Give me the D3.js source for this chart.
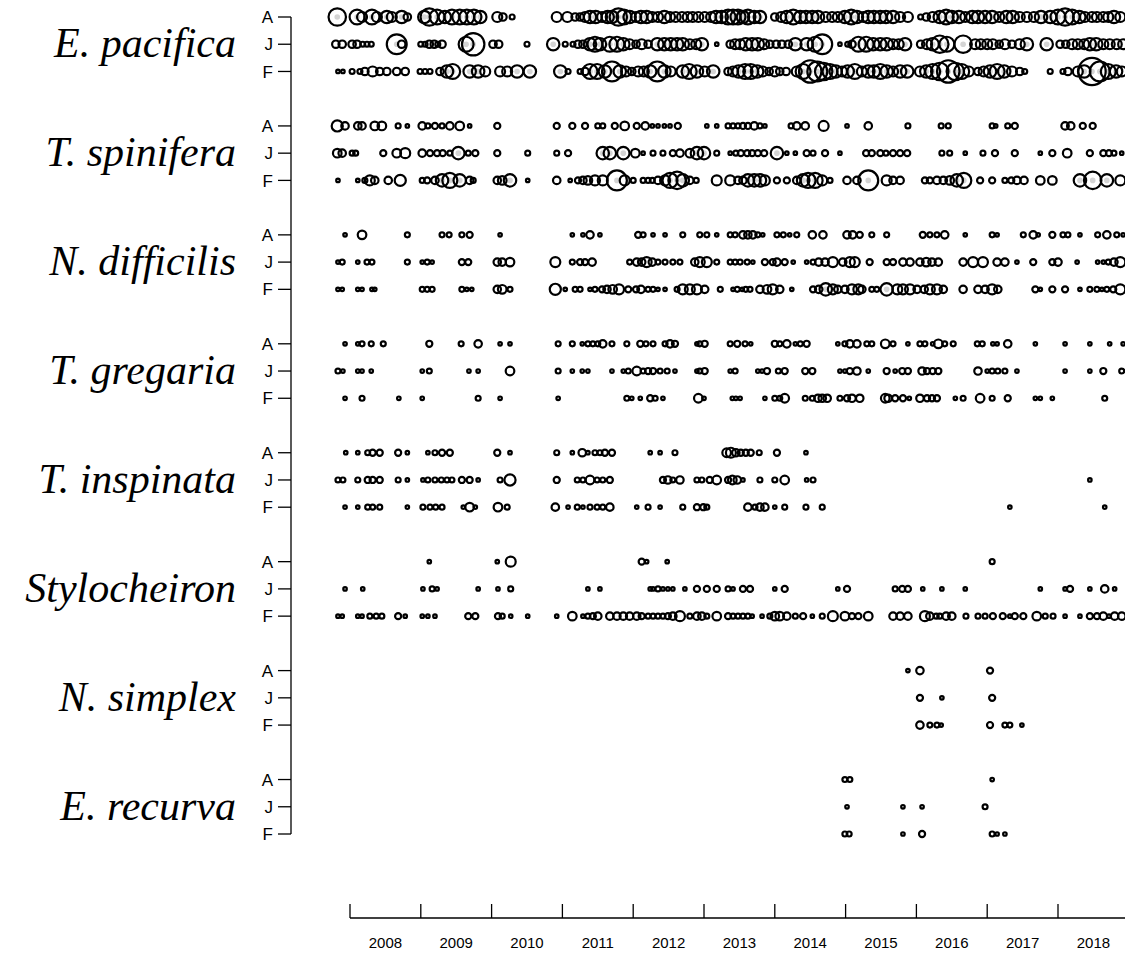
<!DOCTYPE html>
<html>
<head>
<meta charset="utf-8">
<script src="https://cdn.jsdelivr.net/npm/d3@7"></script>
<style>
  html, body { margin: 0; padding: 0; background: #fff; }
  svg { display: block; }
</style>
</head>
<body>
<svg id="chart" width="1125" height="953"></svg>
<script>
// Krill (euphausiid) abundance by sampling date, per species and life stage.
// Each entry: [decimal year, abundance]; circle area is proportional to abundance.

const species = ["E. pacifica", "T. spinifera", "N. difficilis", "T. gregaria",
                 "T. inspinata", "Stylocheiron", "N. simplex", "E. recurva"];
const stages = ["A", "J", "F"];
const yearTicks = [2008, 2009, 2010, 2011, 2012, 2013, 2014, 2015, 2016, 2017, 2018, 2019];
const yearLabels = ["2008", "2009", "2010", "2011", "2012", "2013", "2014", "2015", "2016", "2017", "2018"];

// E. pacifica
const epacificaA = [[2007.82,49],[2008.10,36],[2008.17,16],[2008.31,36],[2008.38,16],[2008.52,25],[2008.59,16],[2008.73,25],[2008.81,9],
  [2009.05,25],[2009.12,49],[2009.23,36],[2009.34,25],[2009.44,36],[2009.55,36],[2009.65,36],[2009.75,36],[2009.84,25],
  [2010.08,16],[2010.16,9],[2010.29,4],[2010.92,16],[2011.07,16],[2011.18,9],[2011.25,9],[2011.32,16],[2011.39,25],[2011.47,25],
  [2011.56,16],[2011.64,25],[2011.70,25],[2011.79,49],[2011.87,36],[2011.95,25],[2012.04,16],[2012.11,25],[2012.19,25],[2012.27,16],
  [2012.35,16],[2012.44,25],[2012.52,16],[2012.60,16],[2012.69,16],[2012.77,16],[2012.84,16],[2012.92,16],[2013.01,16],[2013.10,16],
  [2013.17,25],[2013.25,25],[2013.34,36],
  [2013.41,36],[2013.48,36],[2013.55,25],[2013.62,36],[2013.71,25],[2013.79,25],[2014.00,9],[2014.09,16],[2014.17,25],[2014.26,36],
  [2014.36,25],[2014.44,25],[2014.53,25],[2014.61,25],[2014.72,16],[2014.81,16],[2014.89,16],[2014.99,25],[2015.08,36],[2015.16,25],
  [2015.25,16],[2015.32,25],[2015.40,25],[2015.49,25],[2015.57,25],[2015.67,25],[2015.77,16],[2015.88,16],[2016.06,4],[2016.14,9],
  [2016.23,16],[2016.33,25],[2016.42,36],[2016.50,25],[2016.60,25],[2016.69,16],[2016.79,25],[2016.87,25],[2016.97,25],[2017.07,25],
  [2017.17,16],[2017.27,25],[2017.36,25],[2017.46,16],[2017.56,16],[2017.66,16],[2017.76,25],[2017.89,25],[2018.00,36],[2018.10,49],
  [2018.20,36],[2018.30,25],[2018.38,16],[2018.48,16],[2018.55,16],[2018.64,16],[2018.71,16],[2018.79,25],[2018.88,16]];
const epacificaJ = [[2007.80,9],[2007.89,9],[2008.03,9],[2008.10,9],[2008.18,4],[2008.24,4],[2008.30,4],[2008.66,64],[2008.73,9],
  [2009.00,4],[2009.06,4],[2009.12,9],[2009.19,9],[2009.24,4],[2009.30,9],[2009.64,36],[2009.74,81],[2010.02,9],[2010.10,9],[2010.50,4],
  [2010.87,25],[2011.04,4],[2011.15,4],[2011.22,9],[2011.29,9],[2011.39,25],[2011.46,36],[2011.53,25],[2011.67,36],[2011.77,36],
  [2011.86,25],[2011.95,16],[2012.04,9],[2012.12,16],[2012.21,9],[2012.34,25],[2012.44,25],[2012.53,25],[2012.62,25],[2012.70,25],
  [2012.80,16],[2012.89,16],[2012.97,25],[2013.18,2],[2013.37,9],[2013.44,16],[2013.51,16],[2013.59,25],[2013.68,25],[2013.76,25],
  [2013.85,16],[2013.93,9],[2014.02,9],[2014.10,9],[2014.19,9],[2014.29,25],[2014.45,25],[2014.57,36],[2014.67,64],[2014.92,2],
  [2015.03,4],[2015.09,9],[2015.18,36],[2015.29,36],[2015.39,25],[2015.49,25],[2015.58,25],[2015.67,16],[2015.75,16],[2015.84,25],
  [2016.06,9],[2016.15,16],[2016.23,25],[2016.33,49],[2016.43,36],[2016.66,49],[2016.83,16],[2016.91,16],[2017.00,16],[2017.08,16],
  [2017.17,9],[2017.25,16],[2017.35,9],[2017.46,16],[2017.56,25],[2017.84,25],[2018.03,9],[2018.11,9],[2018.20,16],[2018.28,16],
  [2018.37,16],[2018.45,25],[2018.54,25],[2018.64,16],[2018.73,16],[2018.83,16],[2018.92,16]];
const epacificaF = [[2007.83,2],[2007.90,2],[2008.03,4],[2008.14,4],[2008.21,9],[2008.32,16],[2008.42,9],[2008.52,9],[2008.66,9],
  [2008.78,9],[2008.99,4],[2009.06,4],[2009.13,4],[2009.27,9],[2009.37,25],[2009.45,36],[2009.69,25],[2009.81,25],[2009.91,16],
  [2010.12,16],[2010.22,16],[2010.36,25],[2010.54,25],[2010.97,25],[2011.08,4],[2011.25,4],[2011.32,9],[2011.39,36],[2011.49,36],
  [2011.60,25],[2011.70,64],[2011.81,25],[2011.90,16],[2011.98,9],[2012.07,16],[2012.15,16],[2012.24,25],[2012.34,64],[2012.44,25],
  [2012.53,16],[2012.70,25],[2012.79,36],[2012.90,25],[2013.01,16],[2013.13,25],[2013.34,9],[2013.41,16],[2013.49,25],[2013.58,36],
  [2013.66,36],[2013.75,25],[2013.83,16],[2013.92,9],[2014.00,16],[2014.07,9],[2014.16,9],[2014.31,16],[2014.40,36],[2014.50,81],
  [2014.60,64],[2014.69,49],[2014.78,36],[2014.86,25],[2014.95,16],[2015.03,25],[2015.13,36],[2015.23,16],[2015.32,25],[2015.40,25],
  [2015.49,36],[2015.58,25],[2015.67,16],[2015.77,25],[2015.87,25],[2016.05,16],[2016.14,25],[2016.23,36],[2016.33,49],[2016.45,81],
  [2016.55,49],[2016.64,36],[2016.74,16],[2016.87,9],[2016.95,16],[2017.04,25],[2017.14,36],[2017.24,25],[2017.35,16],[2017.46,9],
  [2017.53,4],[2017.89,4],[2018.07,4],[2018.14,9],[2018.28,16],[2018.37,25],[2018.48,121],[2018.59,64],[2018.71,36],[2018.82,25],[2018.90,16]];

// T. spinifera
const tspiniferaA = [[2007.82,20],[2007.93,9],[2008.11,9],[2008.17,9],[2008.35,12],[2008.45,12],[2008.68,4],[2008.81,2],[2009.02,9],
  [2009.10,4],[2009.20,6],[2009.30,4],[2009.41,9],[2009.55,12],[2009.69,2],[2010.08,6],[2010.92,6],[2011.14,6],[2011.32,6],[2011.50,4],
  [2011.57,4],[2011.74,6],[2011.88,12],[2012.05,6],[2012.17,9],[2012.27,2],[2012.35,2],[2012.44,2],[2012.52,2],[2012.63,6],[2013.04,2],
  [2013.18,2],[2013.34,4],[2013.41,4],[2013.48,4],[2013.55,6],[2013.62,6],[2013.71,9],[2013.79,4],[2013.86,2],[2014.23,4],[2014.31,9],
  [2014.43,9],[2014.69,16],[2015.02,2],[2015.32,9],[2015.88,4],[2016.35,4],[2016.45,4],[2017.07,4],[2017.12,2],[2017.29,4],[2017.39,6],
  [2018.10,9],[2018.18,9],[2018.35,6],[2018.49,6]];
const tspiniferaJ = [[2007.82,12],[2007.89,9],[2008.03,4],[2008.08,4],[2008.47,6],[2008.66,12],[2008.78,16],[2009.02,9],[2009.13,6],
  [2009.23,6],[2009.31,6],[2009.41,4],[2009.53,25],[2009.67,4],[2009.77,6],[2010.08,6],[2010.51,4],[2010.92,4],[2011.08,6],[2011.57,25],
  [2011.67,25],[2011.86,25],[2012.03,12],[2012.14,2],[2012.28,4],[2012.42,4],[2012.56,6],[2012.66,9],[2012.80,12],[2012.90,25],
  [2013.00,25],[2013.18,4],[2013.37,2],[2013.45,4],[2013.52,6],[2013.61,6],[2013.68,6],[2013.76,6],[2013.85,6],[2014.03,25],[2014.17,2],
  [2014.29,2],[2014.45,6],[2014.54,4],[2014.71,6],[2014.92,2],[2015.29,6],[2015.37,6],[2015.49,6],[2015.57,4],[2015.67,6],[2015.77,6],
  [2015.87,6],[2016.36,4],[2016.47,4],[2016.69,2],[2016.94,4],[2017.11,6],[2017.39,6],[2017.75,2],[2017.92,6],[2018.13,12],[2018.45,6],
  [2018.64,6],[2018.72,6],[2018.79,4],[2018.90,2]];
const tspiniferaF = [[2007.83,2],[2008.11,2],[2008.21,4],[2008.28,16],[2008.35,9],[2008.54,9],[2008.71,20],[2009.02,4],[2009.09,6],
  [2009.20,9],[2009.30,25],[2009.41,36],[2009.55,25],[2009.69,9],[2009.74,4],[2010.08,9],[2010.15,12],[2010.26,25],[2010.51,2],
  [2010.92,9],[2011.11,2],[2011.22,6],[2011.29,9],[2011.36,12],[2011.46,16],[2011.57,16],[2011.77,64],[2011.88,16],[2012.00,4],
  [2012.14,4],[2012.21,4],[2012.27,4],[2012.35,9],[2012.45,16],[2012.52,36],[2012.62,49],[2012.70,25],[2012.80,9],[2012.89,4],
  [2013.18,16],[2013.37,16],[2013.48,9],[2013.55,9],[2013.62,25],[2013.71,25],[2013.79,25],[2013.86,16],[2014.03,6],[2014.17,6],
  [2014.31,9],[2014.40,25],[2014.47,36],[2014.57,36],[2014.67,16],[2014.78,4],[2015.02,9],[2015.16,9],[2015.32,64],[2015.58,16],
  [2015.67,9],[2015.77,9],[2016.12,6],[2016.19,6],[2016.29,9],[2016.38,9],[2016.47,12],[2016.57,25],[2016.67,36],[2016.90,6],
  [2017.07,6],[2017.25,4],[2017.34,6],[2017.42,9],[2017.52,9],[2017.75,12],[2017.92,12],[2018.31,25],[2018.49,49],[2018.69,25],[2018.88,16]];

// N. difficilis
const ndifficilisA = [[2007.93,2],[2008.17,12],[2008.81,4],[2009.30,4],[2009.40,4],[2009.58,4],[2009.69,6],[2010.12,2],[2011.14,2],
  [2011.29,2],[2011.39,9],[2011.53,2],[2012.07,6],[2012.14,4],[2012.28,2],[2012.45,2],[2012.70,4],[2012.94,4],[2013.04,4],[2013.18,2],
  [2013.37,4],[2013.44,4],[2013.55,9],[2013.62,9],[2013.69,9],[2013.76,4],[2013.83,2],[2014.03,4],[2014.12,4],[2014.21,2],[2014.31,4],
  [2014.53,9],[2014.68,9],[2015.02,9],[2015.10,9],[2015.20,6],[2015.37,4],[2015.58,4],[2016.09,6],[2016.19,4],[2016.29,4],[2016.40,9],
  [2016.69,2],[2017.07,4],[2017.14,2],[2017.51,4],[2017.65,9],[2017.72,2],[2017.92,6],[2018.07,4],[2018.14,4],[2018.31,2],[2018.56,4],
  [2018.69,9],[2018.83,4],[2018.92,2]];
const ndifficilisJ = [[2007.83,2],[2007.89,4],[2008.11,2],[2008.24,4],[2008.31,4],[2008.81,4],[2009.02,2],[2009.09,4],[2009.16,2],
  [2009.58,6],[2009.67,6],[2010.08,9],[2010.15,9],[2010.26,12],[2010.90,16],[2011.14,4],[2011.25,6],[2011.32,6],[2011.42,9],[2011.95,4],
  [2012.05,9],[2012.12,9],[2012.19,16],[2012.27,9],[2012.35,4],[2012.45,4],[2012.56,4],[2012.66,4],[2012.87,9],[2012.94,16],[2013.04,16],
  [2013.18,4],[2013.37,4],[2013.44,4],[2013.51,4],[2013.61,4],[2013.69,2],[2013.86,6],[2013.97,6],[2014.03,9],[2014.14,6],[2014.26,2],
  [2014.45,2],[2014.54,4],[2014.62,9],[2014.71,9],[2014.82,16],[2014.96,9],[2015.06,16],[2015.13,16],[2015.34,6],[2015.58,6],[2015.67,6],
  [2015.81,9],[2015.91,9],[2016.05,9],[2016.14,12],[2016.22,9],[2016.31,9],[2016.66,9],[2016.80,16],[2016.94,16],[2017.14,9],[2017.25,9],
  [2017.42,2],[2017.65,6],[2017.92,6],[2018.00,9],[2018.27,2],[2018.56,2],[2018.64,2],[2018.71,4],[2018.79,9],[2018.88,16]];
const ndifficilisF = [[2007.83,2],[2007.89,2],[2008.11,2],[2008.17,2],[2008.31,2],[2008.35,2],[2009.02,4],[2009.09,4],[2009.16,4],
  [2009.58,4],[2009.65,2],[2009.72,2],[2010.08,9],[2010.15,12],[2010.26,4],[2010.90,20],[2011.04,2],[2011.18,4],[2011.25,4],[2011.39,2],
  [2011.46,4],[2011.56,6],[2011.63,9],[2011.71,12],[2011.80,16],[2011.93,6],[2012.04,6],[2012.11,9],[2012.21,4],[2012.28,4],[2012.35,2],
  [2012.45,2],[2012.62,4],[2012.70,16],[2012.80,16],[2012.90,16],[2013.01,9],[2013.23,4],[2013.41,2],[2013.47,4],[2013.54,2],[2013.59,4],
  [2013.65,4],[2013.79,9],[2013.89,12],[2013.97,16],[2014.07,9],[2014.24,2],[2014.54,6],[2014.62,9],[2014.72,25],[2014.82,16],[2014.89,9],
  [2014.99,9],[2015.09,16],[2015.18,16],[2015.23,9],[2015.37,4],[2015.44,4],[2015.58,25],[2015.73,16],[2015.81,16],[2015.91,16],
  [2016.01,9],[2016.11,9],[2016.19,16],[2016.29,16],[2016.38,9],[2016.66,9],[2016.87,9],[2016.97,9],[2017.07,16],[2017.15,9],[2017.68,6],
  [2017.75,2],[2017.92,6],[2018.10,6],[2018.31,2],[2018.45,4],[2018.55,4],[2018.62,2],[2018.69,4],[2018.78,6],[2018.88,16]];

// T. gregaria
const tgregariaA = [[2007.93,2],[2008.11,2],[2008.17,4],[2008.30,4],[2008.47,4],[2009.12,6],[2009.57,4],[2009.81,9],[2010.12,2],
  [2010.26,2],[2010.94,4],[2011.14,4],[2011.28,2],[2011.36,4],[2011.43,4],[2011.50,4],[2011.57,9],[2011.70,4],[2011.91,4],[2012.10,6],
  [2012.18,4],[2012.28,4],[2012.45,4],[2012.52,9],[2012.59,6],[2012.90,2],[2012.94,4],[2013.01,6],[2013.37,4],[2013.47,6],[2013.58,4],
  [2013.66,2],[2014.00,6],[2014.07,4],[2014.17,9],[2014.29,2],[2014.36,4],[2014.45,6],[2014.89,2],[2014.99,4],[2015.06,9],[2015.16,9],
  [2015.30,4],[2015.37,4],[2015.56,12],[2015.67,4],[2015.88,2],[2016.05,4],[2016.12,4],[2016.23,2],[2016.31,12],[2016.40,4],[2016.52,4],
  [2016.86,4],[2016.93,4],[2017.08,2],[2017.14,2],[2017.29,9],[2017.68,2],[2018.10,2],[2018.45,2],[2018.73,2],[2018.92,2]];
const tgregariaJ = [[2007.83,4],[2007.90,2],[2008.11,2],[2008.17,2],[2008.30,2],[2009.02,2],[2009.12,4],[2009.68,2],[2009.81,2],
  [2010.26,12],[2010.94,4],[2011.14,2],[2011.28,2],[2011.36,2],[2011.70,2],[2011.86,2],[2011.93,4],[2012.05,12],[2012.14,4],[2012.21,6],
  [2012.28,6],[2012.38,4],[2012.48,4],[2012.59,2],[2012.90,2],[2012.94,4],[2013.01,6],[2013.37,2],[2013.44,4],[2013.76,2],[2013.82,2],
  [2013.89,6],[2014.05,4],[2014.14,6],[2014.43,6],[2014.53,6],[2014.92,2],[2014.99,2],[2015.06,6],[2015.16,9],[2015.32,2],[2015.58,6],
  [2015.70,2],[2015.80,6],[2015.88,6],[2016.08,9],[2016.15,6],[2016.23,6],[2016.31,6],[2016.87,9],[2017.00,2],[2017.07,4],[2017.15,4],
  [2017.25,4],[2017.42,2],[2018.10,2],[2018.45,2],[2018.64,6],[2018.90,4]];
const tgregariaF = [[2007.93,2],[2008.17,4],[2008.69,2],[2009.02,2],[2009.81,4],[2010.12,2],[2010.94,2],[2011.91,4],[2011.98,2],
  [2012.10,2],[2012.24,6],[2012.31,4],[2012.42,2],[2012.92,12],[2013.00,2],[2013.40,2],[2013.45,2],[2013.51,2],[2013.86,2],[2014.00,4],
  [2014.07,4],[2014.14,12],[2014.43,4],[2014.53,4],[2014.61,9],[2014.67,9],[2014.74,9],[2014.92,4],[2015.02,6],[2015.09,9],[2015.20,9],
  [2015.56,12],[2015.60,9],[2015.70,6],[2015.81,6],[2015.90,2],[2016.05,9],[2016.15,6],[2016.22,6],[2016.29,6],[2016.55,2],[2016.66,4],
  [2016.90,12],[2017.07,4],[2017.29,6],[2017.68,2],[2017.75,2],[2017.92,2],[2018.66,4]];

// T. inspinata
const tinspinataA = [[2007.94,2],[2008.11,2],[2008.25,4],[2008.32,6],[2008.42,6],[2008.68,6],[2008.81,2],[2009.10,2],[2009.20,4],
  [2009.30,6],[2009.41,6],[2010.08,6],[2010.26,2],[2010.92,4],[2011.14,2],[2011.28,9],[2011.36,2],[2011.46,4],[2011.53,4],[2011.60,6],
  [2011.70,6],[2012.24,2],[2012.38,2],[2012.59,4],[2013.32,12],[2013.38,16],[2013.45,9],[2013.52,6],[2013.59,6],[2013.66,6],[2013.78,4],
  [2014.03,6],[2014.44,2]];
const tinspinataJ = [[2007.83,4],[2007.90,4],[2008.11,4],[2008.25,6],[2008.32,6],[2008.42,6],[2008.68,4],[2008.81,2],[2009.03,2],
  [2009.10,4],[2009.20,4],[2009.29,4],[2009.37,4],[2009.44,4],[2009.58,6],[2009.69,6],[2009.81,2],[2010.12,4],[2010.26,20],[2010.92,6],
  [2011.21,4],[2011.29,4],[2011.39,12],[2011.49,4],[2011.57,4],[2011.67,6],[2012.42,6],[2012.49,9],[2012.56,4],[2012.66,9],[2012.90,4],
  [2012.97,4],[2013.08,6],[2013.18,12],[2013.34,6],[2013.40,12],[2013.47,9],[2013.55,2],[2013.79,4],[2014.00,4],[2014.14,12],[2014.45,2],
  [2014.54,4],[2018.45,2]];
const tinspinataF = [[2007.93,2],[2008.11,2],[2008.25,4],[2008.32,4],[2008.42,4],[2008.81,2],[2009.03,4],[2009.13,4],[2009.21,4],
  [2009.30,4],[2009.60,2],[2009.69,12],[2009.77,2],[2010.09,12],[2010.22,4],[2010.90,9],[2011.08,2],[2011.21,4],[2011.29,2],[2011.39,4],
  [2011.49,4],[2011.57,4],[2011.67,9],[2012.05,2],[2012.21,4],[2012.38,2],[2012.70,4],[2012.90,6],[2012.99,6],[2013.04,4],[2013.62,9],
  [2013.72,4],[2013.79,9],[2013.86,9],[2014.00,2],[2014.14,4],[2014.44,4],[2014.67,4],[2017.32,2],[2018.66,2]];

// Stylocheiron
const stylocheironA = [[2009.12,2],[2010.08,2],[2010.27,16],[2012.12,6],[2012.19,2],[2012.48,2],[2017.07,4]];
const stylocheironJ = [[2007.93,2],[2008.18,2],[2009.03,2],[2009.16,4],[2009.23,2],[2009.81,2],[2010.09,2],[2010.27,4],[2011.36,2],
  [2011.53,2],[2012.24,2],[2012.28,2],[2012.35,4],[2012.42,2],[2012.49,2],[2012.56,2],[2012.73,2],[2012.90,6],[2013.04,6],[2013.18,6],
  [2013.34,4],[2013.41,2],[2013.55,6],[2013.65,6],[2014.00,2],[2014.14,6],[2014.89,2],[2015.02,6],[2015.70,4],[2015.80,6],[2015.88,6],
  [2016.09,2],[2016.36,2],[2016.69,2],[2017.75,2],[2018.10,2],[2018.17,6],[2018.45,2],[2018.66,9],[2018.80,2]];
const stylocheironF = [[2007.83,2],[2007.89,2],[2008.11,2],[2008.17,2],[2008.28,4],[2008.37,4],[2008.45,4],[2008.68,6],[2008.78,2],
  [2009.02,2],[2009.10,2],[2009.20,2],[2009.67,6],[2009.77,6],[2010.09,6],[2010.15,4],[2010.27,2],[2010.51,2],[2010.92,2],[2011.14,12],
  [2011.29,2],[2011.36,4],[2011.43,6],[2011.50,9],[2011.67,9],[2011.77,9],[2011.86,9],[2011.95,9],[2012.05,9],[2012.12,6],[2012.21,4],
  [2012.28,4],[2012.35,4],[2012.42,4],[2012.49,6],[2012.56,9],[2012.66,16],[2012.80,4],[2012.90,9],[2012.97,9],[2013.04,4],[2013.18,12],
  [2013.34,6],[2013.41,4],[2013.48,4],[2013.55,4],[2013.62,4],[2013.68,2],[2013.82,2],[2013.93,4],[2014.00,12],[2014.07,12],[2014.17,9],
  [2014.29,4],[2014.40,6],[2014.53,2],[2014.67,4],[2014.82,16],[2014.99,12],[2015.09,6],[2015.18,6],[2015.32,12],[2015.67,9],[2015.77,9],
  [2015.88,9],[2016.12,16],[2016.19,9],[2016.28,4],[2016.33,4],[2016.42,9],[2016.50,9],[2016.70,4],[2016.87,4],[2016.97,4],[2017.08,6],
  [2017.22,6],[2017.32,2],[2017.39,6],[2017.51,6],[2017.70,12],[2017.82,4],[2017.93,4],[2018.10,2],[2018.31,2],[2018.45,6],[2018.55,6],
  [2018.64,9],[2018.72,2],[2018.80,9],[2018.90,9]];

// N. simplex
const nsimplexA = [[2015.88,2],[2016.05,9],[2017.04,6]];
const nsimplexJ = [[2016.05,6],[2016.36,2],[2017.07,6]];
const nsimplexF = [[2016.05,9],[2016.19,4],[2016.29,4],[2016.35,2],[2017.04,6],[2017.25,4],[2017.32,4],[2017.49,2]];

// E. recurva
const erecurvaA = [[2014.99,4],[2015.06,4],[2017.07,2]];
const erecurvaJ = [[2015.02,2],[2015.81,2],[2016.08,2],[2016.97,4]];
const erecurvaF = [[2014.99,4],[2015.05,4],[2015.81,2],[2016.08,6],[2017.07,4],[2017.14,2],[2017.25,2]];

const series = [
  [epacificaA, epacificaJ, epacificaF],
  [tspiniferaA, tspiniferaJ, tspiniferaF],
  [ndifficilisA, ndifficilisJ, ndifficilisF],
  [tgregariaA, tgregariaJ, tgregariaF],
  [tinspinataA, tinspinataJ, tinspinataF],
  [stylocheironA, stylocheironJ, stylocheironF],
  [nsimplexA, nsimplexJ, nsimplexF],
  [erecurvaA, erecurvaJ, erecurvaF]
];

// Flatten into one table of points with a row slot (4 slots per species, last one left empty)
const rows = [];
const points = [];
species.forEach((sp, i) => {
  stages.forEach((st, j) => {
    const slot = i * 4 + j;
    rows.push({ species: sp, stage: st, slot });
    series[i][j].forEach(([t, v]) => points.push({ t, v, slot }));
  });
});

const svg = d3.select("#chart");

const x = d3.scaleLinear().domain([2008, 2019]).range([350, 1128.8]);
const y = d3.scaleLinear().domain([0, 30]).range([17, 834]);
const r = d3.scaleSqrt().domain([0, 81]).range([0, 11.2]);

// Light grey centre marks on the larger bubbles
svg.append("g")
  .selectAll("circle")
  .data(points.filter(d => d.v >= 25))
  .join("circle")
  .attr("cx", d => x(d.t))
  .attr("cy", d => y(d.slot))
  .attr("r", 2.8)
  .attr("fill", "#d4d4d4");

// Bubbles
svg.append("g")
  .selectAll("circle")
  .data(points)
  .join("circle")
  .attr("cx", d => x(d.t))
  .attr("cy", d => y(d.slot))
  .attr("r", d => r(d.v))
  .attr("fill", "none")
  .attr("stroke", "#000")
  .attr("stroke-width", 2.2);

// Left axis: life stage per row
const axisX = 291;
const yAxis = svg.append("g").attr("transform", `translate(${axisX},0)`);
yAxis.append("line")
  .attr("x1", 0).attr("x2", 0)
  .attr("y1", y(0)).attr("y2", y(30))
  .attr("stroke", "#000").attr("stroke-width", 1.3);
const rowTicks = yAxis.selectAll("g.tick").data(rows).join("g")
  .attr("class", "tick")
  .attr("transform", d => `translate(0,${y(d.slot)})`);
rowTicks.append("line").attr("x1", -13).attr("x2", 0).attr("stroke", "#000").attr("stroke-width", 1.3);
rowTicks.append("text")
  .attr("x", -18).attr("dy", "0.36em")
  .attr("text-anchor", "end")
  .attr("font-family", "Liberation Sans, Arial, sans-serif")
  .attr("font-size", 17)
  .text(d => d.stage);

// Species names
svg.append("g")
  .selectAll("text")
  .data(species)
  .join("text")
  .attr("x", 236)
  .attr("y", (d, i) => y(i * 4 + 1) + 13)
  .attr("text-anchor", "end")
  .attr("font-family", "Liberation Serif, Times New Roman, serif")
  .attr("font-style", "italic")
  .attr("font-size", 42)
  .text(d => d);

// Bottom time axis: ticks at year boundaries, labels centred on each year
const xAxisY = 918;
const xAxis = svg.append("g");
xAxis.append("line")
  .attr("x1", x(2008)).attr("x2", x(2019))
  .attr("y1", xAxisY).attr("y2", xAxisY)
  .attr("stroke", "#000").attr("stroke-width", 1.3);
xAxis.selectAll("line.tick").data(yearTicks).join("line")
  .attr("class", "tick")
  .attr("x1", d => x(d)).attr("x2", d => x(d))
  .attr("y1", xAxisY - 14).attr("y2", xAxisY)
  .attr("stroke", "#000").attr("stroke-width", 1.3);
xAxis.selectAll("text").data(yearLabels).join("text")
  .attr("x", d => x(+d + 0.5))
  .attr("y", 948)
  .attr("text-anchor", "middle")
  .attr("font-family", "Liberation Sans, Arial, sans-serif")
  .attr("font-size", 15)
  .text(d => d);
</script>
</body>
</html>
